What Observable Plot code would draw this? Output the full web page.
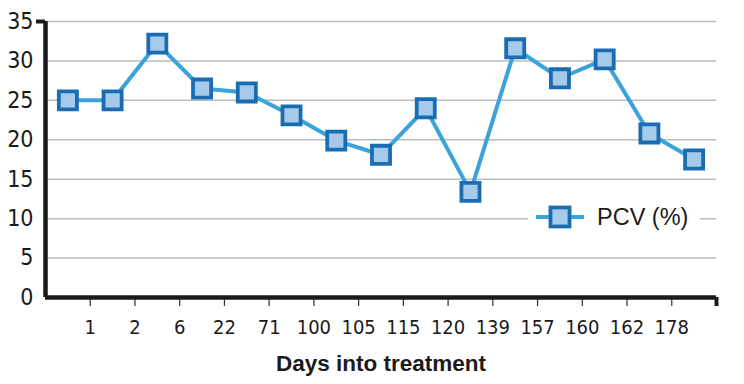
<!DOCTYPE html>
<html>
<head>
<meta charset="utf-8">
<script src="https://cdn.jsdelivr.net/npm/d3@7"></script>
<script src="https://cdn.jsdelivr.net/npm/@observablehq/plot@0.6"></script>
<style>
  html, body { margin: 0; padding: 0; background: #fff; }
  #wrap { position: relative; width: 744px; height: 384px; }
  #legend { position: absolute; left: 528px; top: 204px; height: 26px; width: 172px; background: #fff;
    display: flex; align-items: center; font-family: "Liberation Sans", Arial, sans-serif; font-size: 23.5px; color: #1a1a1a; }
  #legend svg { margin-left: 8px; margin-right: 11px; }
</style>
</head>
<body>
<div id="wrap"></div>
<script>
const dayLabels = ["1","2","6","22","71","100","105","115","120","139","157","160","162","178"];
const pcv = [25, 25, 32.2, 26.5, 26, 23.1, 19.9, 18.1, 24, 13.4, 31.6, 27.8, 30.2, 20.8, 17.5];
const yTicks = [0, 5, 10, 15, 20, 25, 30, 35];
const seriesName = "PCV (%)";
const axisTitle = "Days into treatment";

const data = pcv.map((v, i) => ({pos: i + 0.5, value: v}));
const lineColor = "#3aa3da";
const markStroke = "#1b6db3";
const markFill = "#a6cbea";
const tickFont = "'DejaVu Sans Condensed', sans-serif";

const chart = Plot.plot({
  width: 744,
  height: 384,
  marginLeft: 45,
  marginRight: 28,
  marginTop: 21,
  marginBottom: 87,
  x: {domain: [0, pcv.length], axis: null},
  y: {domain: [0, 35], axis: null},
  style: {fontFamily: tickFont, background: "#fff"},
  marks: [
    Plot.gridY(yTicks.filter(d => d > 0), {stroke: "#bcbcbc", strokeOpacity: 1, strokeWidth: 1.5}),
    Plot.axisY(yTicks, {tickSize: 0, tickPadding: 12, fontSize: 23, fill: "#1a1a1a", stroke: null, label: null}),
    Plot.axisY([35], {tickSize: 9, strokeWidth: 4, stroke: "#1a1a1a", tickFormat: () => "", label: null}),
    Plot.axisX(dayLabels.map((d, i) => i + 1), {tickSize: 9, tickPadding: 13, stroke: "#333", strokeWidth: 1.2,
      fontSize: 20, fill: "#1a1a1a", tickFormat: d => dayLabels[d - 1], label: null}),
    Plot.axisX([pcv.length], {tickSize: 9, strokeWidth: 4, stroke: "#1a1a1a", tickFormat: () => "", label: null}),
    Plot.ruleX([0], {y1: 0, y2: 35, stroke: "#1a1a1a", strokeWidth: 4.5}),
    Plot.ruleY([0], {stroke: "#1a1a1a", strokeWidth: 4.5}),
    Plot.line(data, {x: "pos", y: "value", stroke: lineColor, strokeWidth: 4}),
    Plot.dot(data, {x: "pos", y: "value", symbol: "square", r: 10.2, fill: markFill, stroke: markStroke, strokeWidth: 3.8}),
    Plot.text([axisTitle], {frameAnchor: "bottom", dy: 73, fontSize: 22.5, fontWeight: "bold",
      fontFamily: "'Liberation Sans', Arial, sans-serif", fill: "#1a1a1a"})
  ]
});

const wrap = document.getElementById("wrap");
wrap.appendChild(chart);

const legend = document.createElement("div");
legend.id = "legend";
legend.innerHTML = `<svg width="50" height="26"><line x1="0" y1="13" x2="48" y2="13" stroke="${lineColor}" stroke-width="4"/>` +
  `<rect x="14.5" y="3.5" width="19" height="19" fill="${markFill}" stroke="${markStroke}" stroke-width="3.8"/></svg>` +
  `<span></span>`;
legend.querySelector("span").textContent = seriesName;
wrap.appendChild(legend);
</script>
</body>
</html>
